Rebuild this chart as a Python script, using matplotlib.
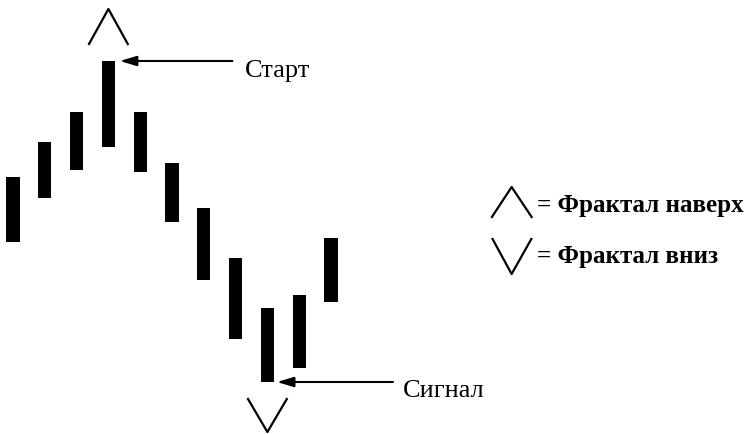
import matplotlib.pyplot as plt

# данные: бары (high/low), фракталы
bar_idx = list(range(11))
highs = [257, 292, 322, 373, 322, 271, 226, 176, 126, 139, 196]
lows = [192, 236, 264, 287, 262, 212, 154, 95, 52, 66, 132]
up_fractal = 3    # бар со "Старт"
down_fractal = 8  # бар с "Сигнал"
label_start = 'Старт'
label_signal = 'Сигнал'
legend_up = '= Фрактал наверх'
legend_down = '= Фрактал вниз'

plt.rcParams['font.family'] = ['Liberation Serif', 'DejaVu Serif']

fig = plt.figure(figsize=(7.5, 4.35), dpi=100)
ax = fig.add_axes([0, 0, 1, 1])
ax.set_xlim(-13 / 31.8, (750 - 13) / 31.8)
ax.set_ylim(0, 435)
ax.axis('off')

# бары
heights = [h - l for h, l in zip(highs, lows)]
ax.bar(bar_idx, heights, bottom=lows, width=0.41, color='black')

# фрактал наверх
xu = bar_idx[up_fractal]
hu = highs[up_fractal]
ax.plot([xu - 0.61, xu, xu + 0.61], [hu + 17, hu + 52, hu + 17], color='black', lw=1.6)
# фрактал вниз
xd = bar_idx[down_fractal]
ld = lows[down_fractal]
ax.plot([xd - 0.61, xd, xd + 0.61], [ld - 17, ld - 50, ld - 17], color='black', lw=1.6)

arrow = dict(arrowstyle='-|>,head_length=1.0,head_width=0.3', color='black', lw=1.5,
             shrinkA=0, shrinkB=0)
# Старт
ax.annotate('', xy=(xu + 0.36, hu), xytext=(xu + 3.9, hu), arrowprops=arrow)
ax.text(xu + 4.3, hu - 15, label_start, fontsize=19, va='baseline', ha='left')
# Сигнал
ax.annotate('', xy=(xd + 0.3, ld), xytext=(xd + 3.95, ld), arrowprops=arrow)
ax.text(xd + 4.27, ld - 14, label_signal, fontsize=19, va='baseline', ha='left')

# легенда
ax.plot([15.06, 15.68, 16.31], [217, 247, 217], color='black', lw=1.6)
ax.text(16.48, 229, legend_up, fontsize=18, fontweight='bold', va='center', ha='left')
ax.plot([15.08, 15.68, 16.3], [195, 160, 195], color='black', lw=1.6)
ax.text(16.48, 178, legend_down, fontsize=18, fontweight='bold', va='center', ha='left')

plt.savefig('out.png', dpi=100)
